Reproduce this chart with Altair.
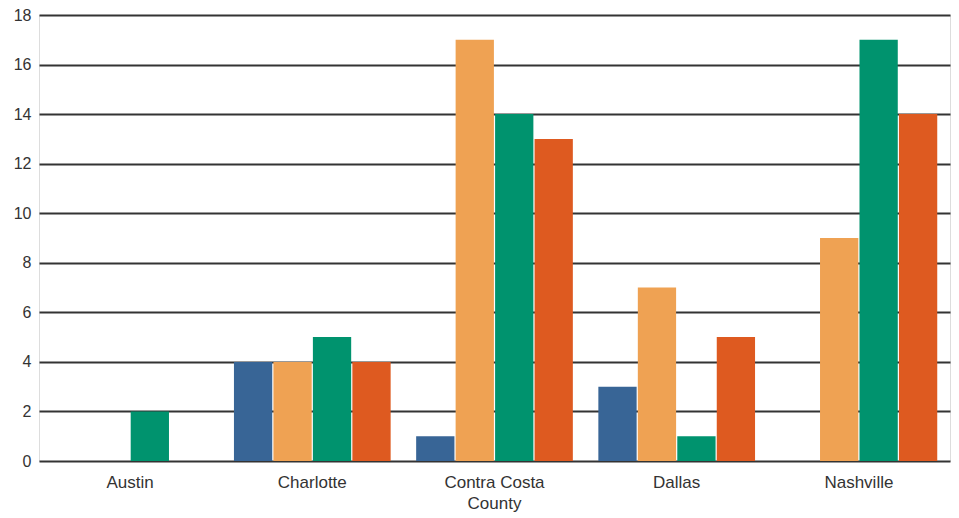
import altair as alt
import pandas as pd

categories = ["Austin", "Charlotte", "Contra Costa County", "Dallas", "Nashville"]
series = ["S1", "S2", "S3", "S4"]
values = {
    "S1": [0, 4, 1, 3, 0],
    "S2": [0, 4, 17, 7, 9],
    "S3": [2, 5, 14, 1, 17],
    "S4": [0, 4, 13, 5, 14],
}
colors = ["#386596", "#EFA253", "#00936E", "#DE5A20"]

rows = []
for s in series:
    for c, v in zip(categories, values[s]):
        rows.append({"category": c, "series": s, "value": v})
df = pd.DataFrame(rows)

chart = alt.Chart(df).mark_bar().encode(
    x=alt.X("category:N", sort=categories, title=None,
            scale=alt.Scale(paddingInner=0.14, paddingOuter=0.07),
            axis=alt.Axis(labelAngle=0, labelFontSize=17, labelColor="#333",
                          labelFont="Liberation Sans", ticks=False, domain=False,
                          labelPadding=13, labelLineHeight=21,
                          labelExpr="datum.label == 'Contra Costa County' ? ['Contra Costa', 'County'] : datum.label")),
    xOffset=alt.XOffset("series:N", sort=series, scale=alt.Scale(paddingInner=0.03)),
    y=alt.Y("value:Q", title=None,
            scale=alt.Scale(domain=[0, 18]),
            axis=alt.Axis(values=list(range(0, 19, 2)), grid=True, gridColor="#333",
                          gridWidth=2, gridOpacity=1, ticks=False, domain=False,
                          labelFontSize=16, labelColor="#333", labelFont="Liberation Sans",
                          labelPadding=8)),
    color=alt.Color("series:N", sort=series, legend=None,
                    scale=alt.Scale(domain=series, range=colors)),
).properties(
    width=911, height=446,
    autosize="none",
    padding={"left": 31, "top": 7, "right": 1, "bottom": 56},
).configure_view(stroke="#333", strokeWidth=2).configure(background="white")

chart.save("out.html", embed_options={"renderer": "svg", "actions": False})
